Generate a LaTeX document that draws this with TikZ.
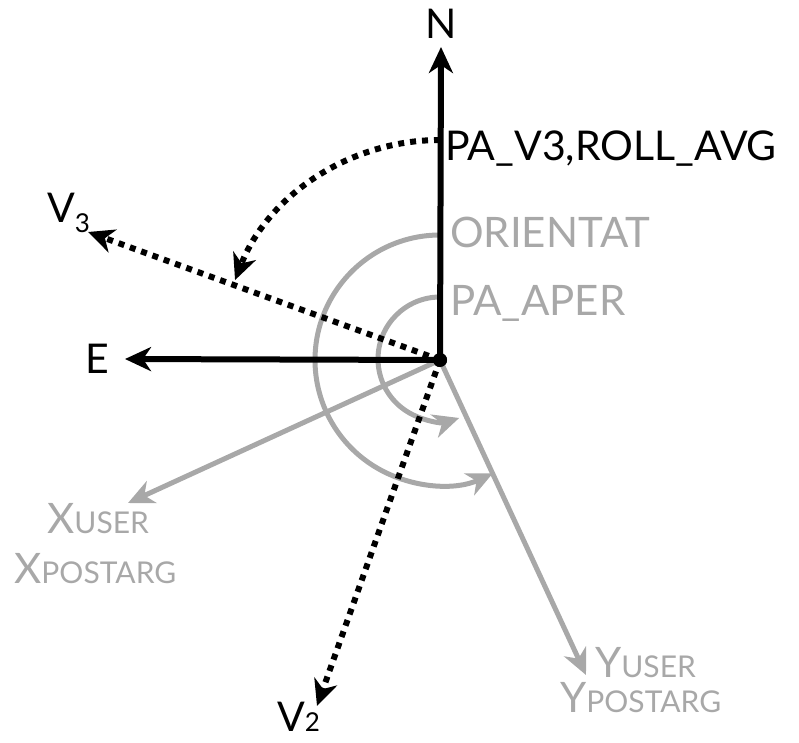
\documentclass[tikz,border=0pt]{standalone}
\usepackage{fontspec}
\setmainfont{Lato}
\usetikzlibrary{arrows.meta}
\definecolor{lgray}{RGB}{168,168,168}
\newcommand\lblBig[1]{{\fontsize{42}{42}\selectfont #1}}
\newcommand\lblSm[1]{{\fontsize{30}{30}\selectfont #1}}
\begin{document}
\begin{tikzpicture}[x=1pt,y=1pt,
  tip/.style={-{Stealth[length=26pt,width=24pt,inset=8pt]}},
  ax/.style={line width=6pt,tip},
  dotax/.style={line width=6pt,tip,dash pattern=on 6pt off 6pt},
  gax/.style={line width=5pt,draw=lgray,-{Stealth[length=26pt,width=24pt,inset=8pt,fill=lgray]}},
  lbl/.style={inner sep=0pt,anchor=base west,font=\fontsize{41}{41}\selectfont},
  glbl/.style={lbl,text=lgray,font=\fontsize{42}{42}\selectfont}
]
\useasboundingbox (0,0) rectangle (799,-742);
\node[circle,fill,inner sep=0pt,minimum size=14pt] (O) at (440,-360) {};
% tip coordinates
\coordinate (Ntip) at (441,-47);
\coordinate (Etip) at (125,-359);
\coordinate (V3tip) at (88,-232);
\coordinate (V2tip) at (317,-706);
\coordinate (Xtip) at (128,-503);
\coordinate (Ytip) at (586,-675);
% labels
\node[lbl,anchor=base] (N) at (441,-38) {N};
\node[lbl] (pav3) at (445,-160) {PA\_V3,ROLL\_AVG};
\node[glbl] (orient) at (450,-247) {ORIENTAT};
\node[glbl] (paaper) at (450,-315) {PA\_APER};
\node[lbl] (E) at (85,-373) {E};
\node[lbl] (V3) at (47,-222) {V\raisebox{-10pt}{\fontsize{26}{26}\selectfont 3}};
\node[lbl] (V2) at (277,-731) {V{\fontsize{26}{26}\selectfont 2}};
\node[glbl] (xu) at (47,-533) {\lblBig{X}\lblSm{USER}};
\node[glbl] (xp) at (14,-583) {\lblBig{X}\lblSm{POSTARG}};
\node[glbl] (yu) at (595,-677) {\lblBig{Y}\lblSm{USER}};
\node[glbl] (yp) at (560,-712) {\lblBig{Y}\lblSm{POSTARG}};
% gray axes and arcs
\draw[gax] (O.center) -- (Xtip);
\draw[gax] (O.center) -- (Ytip);
\draw[gax] (O.center) ++(90:125) arc[start angle=90,end angle=295,radius=125];
\draw[gax] (O.center) ++(90:63) arc[start angle=90,end angle=288,radius=62];
% black axes
\draw[ax] (O.center) -- (Ntip);
\draw[ax] (O.center) -- (Etip);
\draw[dotax] (O.center) -- (V3tip);
\draw[dotax] (O.center) -- (V2tip);
\draw[dotax] (O.center) ++(90:220) arc[start angle=90,end angle=158.7,radius=220];
\fill (O) circle (7pt);
\end{tikzpicture}
\end{document}
